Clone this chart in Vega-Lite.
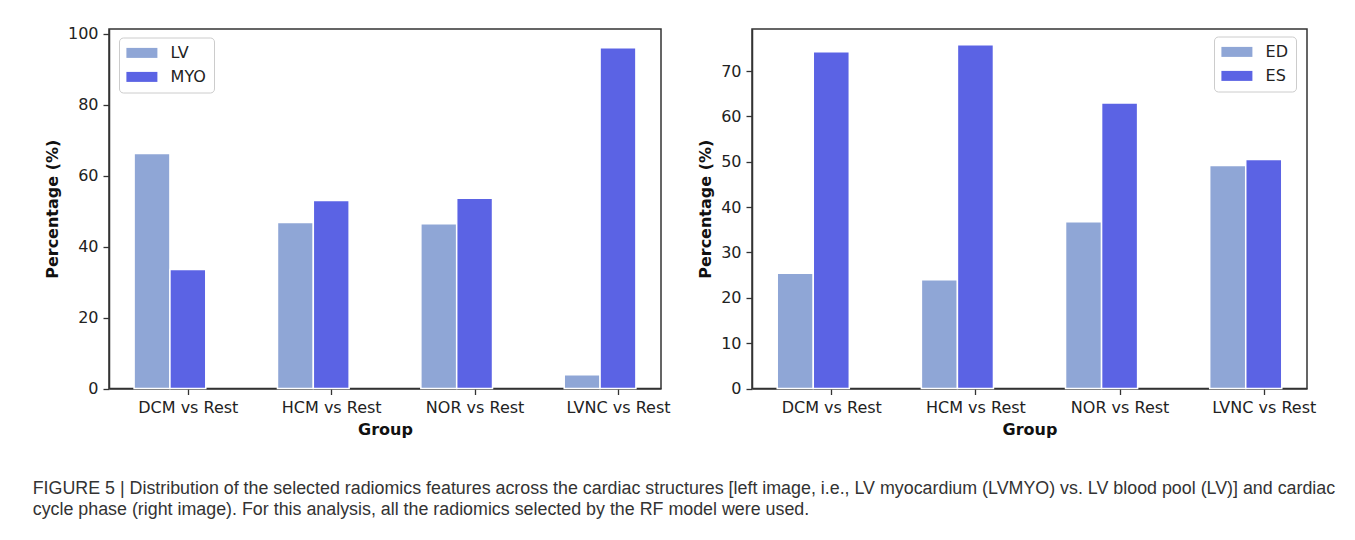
{
  "$schema": "https://vega.github.io/schema/vega-lite/v6.json",
  "padding": {"left": 32, "top": 24, "right": 5, "bottom": 5},
  "background": "white",
  "title": {
    "text": ["FIGURE 5 | Distribution of the selected radiomics features across the cardiac structures [left image, i.e., LV myocardium (LVMYO) vs. LV blood pool (LV)] and cardiac", "cycle phase (right image). For this analysis, all the radiomics selected by the RF model were used."],
    "orient": "bottom", "anchor": "start", "font": "Liberation Sans", "fontSize": 17.85, "fontWeight": "normal",
    "color": "#333333", "lineHeight": 21, "offset": 42, "dx": -11
  },
  "spacing": 25,
  "hconcat": [
    {
      "width": 552, "height": 359.5,
      "data": {"values": [
        {"group": "DCM vs Rest", "series": "LV", "value": 66.2},
        {"group": "DCM vs Rest", "series": "MYO", "value": 33.5},
        {"group": "HCM vs Rest", "series": "LV", "value": 46.8},
        {"group": "HCM vs Rest", "series": "MYO", "value": 53.0},
        {"group": "NOR vs Rest", "series": "LV", "value": 46.4},
        {"group": "NOR vs Rest", "series": "MYO", "value": 53.6},
        {"group": "LVNC vs Rest", "series": "LV", "value": 3.9},
        {"group": "LVNC vs Rest", "series": "MYO", "value": 96.0}
      ]},
      "mark": {"type": "bar", "stroke": "white", "strokeWidth": 1.5},
      "encoding": {
        "x": {"field": "group", "type": "nominal", "sort": ["DCM vs Rest", "HCM vs Rest", "NOR vs Rest", "LVNC vs Rest"],
              "scale": {"paddingInner": 0.5, "paddingOuter": 0.175},
              "axis": {"title": "Group", "labelAngle": 0, "tickOffset": 17.9}},
        "xOffset": {"field": "series", "type": "nominal", "sort": ["LV", "MYO"], "scale": {"domain": ["LV", "MYO"], "paddingInner": 0, "paddingOuter": 0}},
        "y": {"field": "value", "type": "quantitative", "scale": {"domain": [0, 101.3], "nice": false},
              "axis": {"title": "Percentage (%)", "values": [0, 20, 40, 60, 80, 100]}},
        "color": {"field": "series", "type": "nominal", "scale": {"domain": ["LV", "MYO"], "range": ["#8fa6d6", "#5b63e4"]},
                  "legend": {"orient": "none", "legendX": 10, "legendY": 8.5}}
      }
    },
    {
      "width": 555, "height": 359.5,
      "data": {"values": [
        {"group": "DCM vs Rest", "series": "ED", "value": 25.4},
        {"group": "DCM vs Rest", "series": "ES", "value": 74.3},
        {"group": "HCM vs Rest", "series": "ED", "value": 24.0},
        {"group": "HCM vs Rest", "series": "ES", "value": 75.8},
        {"group": "NOR vs Rest", "series": "ED", "value": 36.8},
        {"group": "NOR vs Rest", "series": "ES", "value": 63.0},
        {"group": "LVNC vs Rest", "series": "ED", "value": 49.2},
        {"group": "LVNC vs Rest", "series": "ES", "value": 50.5}
      ]},
      "mark": {"type": "bar", "stroke": "white", "strokeWidth": 1.5},
      "encoding": {
        "x": {"field": "group", "type": "nominal", "sort": ["DCM vs Rest", "HCM vs Rest", "NOR vs Rest", "LVNC vs Rest"],
              "scale": {"paddingInner": 0.5, "paddingOuter": 0.175},
              "axis": {"title": "Group", "labelAngle": 0, "tickOffset": 18}},
        "xOffset": {"field": "series", "type": "nominal", "sort": ["ED", "ES"], "scale": {"domain": ["ED", "ES"], "paddingInner": 0, "paddingOuter": 0}},
        "y": {"field": "value", "type": "quantitative", "scale": {"domain": [0, 79.3], "nice": false},
              "axis": {"title": "Percentage (%)", "values": [0, 10, 20, 30, 40, 50, 60, 70]}},
        "color": {"field": "series", "type": "nominal", "scale": {"domain": ["ED", "ES"], "range": ["#8fa6d6", "#5b63e4"]},
                  "legend": {"orient": "none", "legendX": 462, "legendY": 7.5}}
      }
    }
  ],
  "resolve": {"scale": {"color": "independent", "y": "independent", "x": "independent", "xOffset": "independent"}},
  "config": {
    "font": "DejaVu Sans",
    "view": {"stroke": "#333333", "strokeWidth": 1.5},
    "axis": {
      "labelFont": "DejaVu Sans", "labelFontSize": 16, "labelColor": "#222222",
      "titleFont": "DejaVu Sans", "titleFontSize": 16, "titleFontWeight": "bold", "titleColor": "#111111",
      "tickColor": "#333333", "tickWidth": 1.3, "tickSize": 6, "grid": false,
      "domainColor": "#333333", "domainWidth": 1.5, "zindex": 1
    },
    "axisX": {"labelPadding": 5, "titlePadding": 6},
    "axisY": {"labelPadding": 5, "titlePadding": 7},
    "legend": {
      "title": null,
      "labelFont": "DejaVu Sans", "labelFontSize": 16, "labelColor": "#222222",
      "symbolType": "M-3.1,-1L3.1,-1L3.1,1L-3.1,1Z",
      "symbolSize": 100, "symbolStrokeWidth": 0, "symbolOpacity": 1,
      "rowPadding": 8, "padding": 7.4, "symbolOffset": 7.5, "labelOffset": 20.7,
      "fillColor": "rgba(255,255,255,0.8)", "strokeColor": "#cccccc", "cornerRadius": 4
    }
  }
}
